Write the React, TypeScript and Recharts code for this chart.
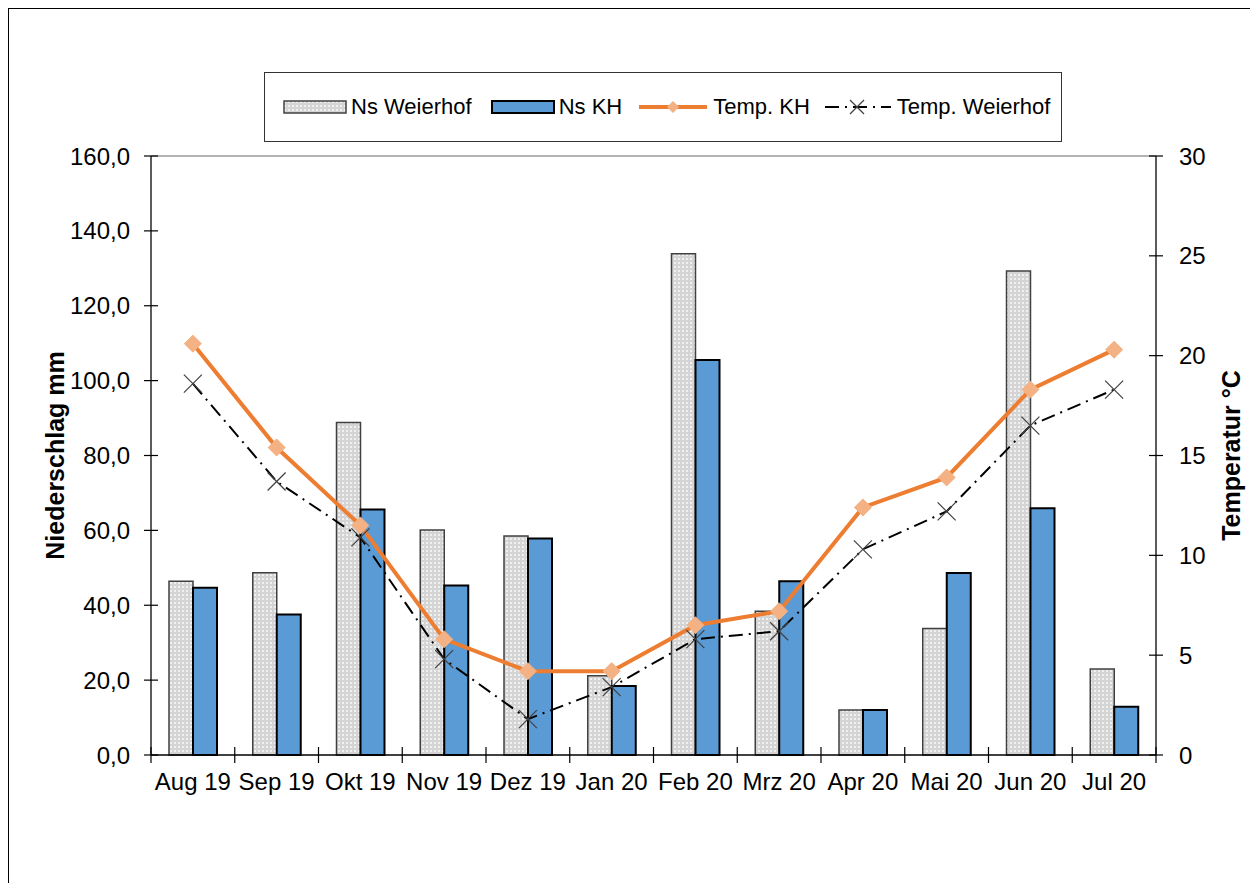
import { Bar, ComposedChart, Label, Legend, Line, ReferenceLine, XAxis, YAxis } from "recharts";

const months = [
  "Aug 19", "Sep 19", "Okt 19", "Nov 19", "Dez 19", "Jan 20",
  "Feb 20", "Mrz 20", "Apr 20", "Mai 20", "Jun 20", "Jul 20",
];
const nsWeierhof = [46.4, 48.7, 88.8, 60.1, 58.5, 21.2, 133.9, 38.4, 12.0, 33.8, 129.3, 23.0];
const nsKH = [44.7, 37.5, 65.6, 45.3, 57.8, 18.4, 105.5, 46.4, 12.0, 48.6, 65.9, 12.9];
const tempKH = [20.6, 15.4, 11.5, 5.8, 4.2, 4.2, 6.5, 7.2, 12.4, 13.9, 18.3, 20.3];
const tempWeierhof = [18.6, 13.7, 10.9, 4.8, 1.8, 3.4, 5.8, 6.2, 10.3, 12.2, 16.5, 18.3];
const precipTicks = [0, 20, 40, 60, 80, 100, 120, 140, 160];
const tempTicks = [0, 5, 10, 15, 20, 25, 30];

const chartData = months.map((month, i) => ({
  month,
  nsWeierhof: nsWeierhof[i],
  nsKH: nsKH[i],
  tempKH: tempKH[i],
  tempWeierhof: tempWeierhof[i],
}));

const FONT = "'Liberation Sans', Arial, sans-serif";
const TICK_SIZE = 24;
const ORANGE = "#ED7D31";
const ORANGE_LIGHT = "#F4B183";
const BLUE = "#5B9BD5";

function Diamond({ cx, cy }: any) {
  if (cx == null || cy == null) return null;
  const r = 8.5;
  return (
    <path
      d={`M${cx},${cy - r}L${cx + r},${cy}L${cx},${cy + r}L${cx - r},${cy}Z`}
      fill={ORANGE_LIGHT}
      stroke={ORANGE_LIGHT}
    />
  );
}

function Cross({ cx, cy }: any) {
  if (cx == null || cy == null) return null;
  const r = 9;
  return (
    <g stroke="#404040" strokeWidth={1.2}>
      <line x1={cx - r} y1={cy - r} x2={cx + r} y2={cy + r} />
      <line x1={cx - r} y1={cy + r} x2={cx + r} y2={cy - r} />
    </g>
  );
}

// month labels, with the tick marks drawn on the category boundaries
function MonthTick(props: any) {
  const { x, y, payload, index, visibleTicksCount, width } = props;
  const half = payload.offset || width / months.length / 2;
  const left = payload.coordinate - half;
  const base = y - 18;
  return (
    <g>
      <line x1={left} x2={left} y1={base - 8} y2={base + 8} stroke="#000" strokeWidth={1.2} />
      {index === visibleTicksCount - 1 && (
        <line x1={left + 2 * half} x2={left + 2 * half} y1={base - 8} y2={base + 8} stroke="#000" strokeWidth={1.2} />
      )}
      <text x={x} y={y} dy="0.71em" textAnchor="middle" fontSize={TICK_SIZE} fill="#000" fontFamily={FONT}>
        {payload.value}
      </text>
    </g>
  );
}

function verticalTitle(text: string, fromLeft: number) {
  return (props: any) => {
    const vb = props.viewBox || {};
    const x = vb.x + fromLeft;
    const y = vb.y + vb.height / 2;
    return (
      <text
        x={x}
        y={y}
        transform={`rotate(-90 ${x} ${y})`}
        textAnchor="middle"
        dominantBaseline="central"
        fontSize={25}
        fontWeight="bold"
        fill="#000"
        fontFamily={FONT}
      >
        {text}
      </text>
    );
  };
}

function LegendBox() {
  const text = { fontSize: 22, color: "#000", fontFamily: FONT, whiteSpace: "nowrap" as const };
  return (
    <div
      style={{
        boxSizing: "border-box",
        width: 798,
        height: 70,
        border: "1px solid #333",
        background: "#fff",
        display: "flex",
        alignItems: "center",
        paddingLeft: 18,
      }}
    >
      <svg width={64} height={14} style={{ marginRight: 4 }}>
        <defs>
          <pattern id="dotsLegend" width={4} height={4} patternUnits="userSpaceOnUse">
            <rect width={4} height={4} fill="#d4d4d4" />
            <circle cx={2} cy={2} r={0.9} fill="#fff" />
          </pattern>
        </defs>
        <rect x={1} y={1} width={62} height={12} fill="url(#dotsLegend)" stroke="#404040" strokeWidth={1.5} />
      </svg>
      <span style={{ ...text, marginRight: 19 }}>Ns Weierhof</span>
      <svg width={64} height={14} style={{ marginRight: 4 }}>
        <rect x={1} y={1} width={62} height={12} fill={BLUE} stroke="#000" strokeWidth={2} />
      </svg>
      <span style={{ ...text, marginRight: 17 }}>Ns KH</span>
      <svg width={68} height={20} style={{ marginRight: 6 }}>
        <line x1={0} y1={10} x2={68} y2={10} stroke={ORANGE} strokeWidth={4} />
        <path d="M34,4L40,10L34,16L28,10Z" fill={ORANGE_LIGHT} />
      </svg>
      <span style={{ ...text, marginRight: 15 }}>Temp. KH</span>
      <svg width={66} height={20} style={{ marginRight: 6 }}>
        <line x1={0} y1={10} x2={66} y2={10} stroke="#000" strokeWidth={2} strokeDasharray="14 6 2 6" />
        <line x1={25} y1={3} x2={39} y2={17} stroke="#404040" strokeWidth={1.2} />
        <line x1={25} y1={17} x2={39} y2={3} stroke="#404040" strokeWidth={1.2} />
      </svg>
      <span style={text}>Temp. Weierhof</span>
    </div>
  );
}

const fmtPrecip = (v: number) => v.toFixed(1).replace(".", ",");

export default function App() {
  return (
    <div
      style={{
        position: "relative",
        width: 1243,
        height: 900,
        border: "1px solid #000",
        boxSizing: "border-box",
        background: "#fff",
        fontFamily: FONT,
      }}
    >
      <ComposedChart
        width={1240}
        height={880}
        data={chartData}
        margin={{ top: 147, right: 0, bottom: 94, left: 0 }}
        barGap={0}
        barSize={24}
      >
        <defs>
          <pattern id="dots" width={4} height={4} patternUnits="userSpaceOnUse">
            <rect width={4} height={4} fill="#d4d4d4" />
            <circle cx={2} cy={2} r={0.9} fill="#fff" />
          </pattern>
        </defs>
        <XAxis
          dataKey="month"
          interval={0}
          height={40}
          tickLine={false}
          tickSize={0}
          tickMargin={18}
          tick={<MonthTick />}
          axisLine={{ stroke: "#000", strokeWidth: 1.5 }}
        />
        <YAxis
          yAxisId="left"
          width={142}
          domain={[0, 160]}
          ticks={precipTicks}
          tickFormatter={fmtPrecip}
          tickSize={14}
          tickMargin={7}
          tickLine={{ stroke: "#000", strokeWidth: 1.2, transform: "translate(7,0)" }}
          axisLine={{ stroke: "#262626", strokeWidth: 1.5 }}
          tick={{ fontSize: TICK_SIZE, fill: "#000", fontFamily: FONT }}
          label={<Label content={verticalTitle("Niederschlag mm", 46)} />}
        />
        <YAxis
          yAxisId="right"
          orientation="right"
          width={93}
          domain={[0, 30]}
          ticks={tempTicks}
          tickSize={14}
          tickMargin={9}
          tickLine={{ stroke: "#000", strokeWidth: 1.2, transform: "translate(-7,0)" }}
          axisLine={{ stroke: "#262626", strokeWidth: 1.5 }}
          tick={{ fontSize: TICK_SIZE, fill: "#000", fontFamily: FONT, textAnchor: "start" }}
          label={<Label content={verticalTitle("Temperatur °C", 75)} />}
        />
        <ReferenceLine yAxisId="left" y={160} stroke="#9a9a9a" strokeWidth={1.5} />
        <Legend
          verticalAlign="middle"
          align="center"
          layout="horizontal"
          wrapperStyle={{ top: 63, left: 255, width: 798, height: 70 }}
          content={() => <LegendBox />}
        />
        <Bar
          yAxisId="left"
          dataKey="nsWeierhof"
          name="Ns Weierhof"
          fill="url(#dots)"
          stroke="#404040"
          strokeWidth={1.5}
          isAnimationActive={false}
        />
        <Bar
          yAxisId="left"
          dataKey="nsKH"
          name="Ns KH"
          fill={BLUE}
          stroke="#000"
          strokeWidth={2}
          isAnimationActive={false}
        />
        <Line
          yAxisId="right"
          type="linear"
          dataKey="tempKH"
          name="Temp. KH"
          stroke={ORANGE}
          strokeWidth={4}
          dot={<Diamond />}
          activeDot={false}
          isAnimationActive={false}
        />
        <Line
          yAxisId="right"
          type="linear"
          dataKey="tempWeierhof"
          name="Temp. Weierhof"
          stroke="#000"
          strokeWidth={2}
          strokeDasharray="14 6 2 6"
          dot={<Cross />}
          activeDot={false}
          isAnimationActive={false}
        />
      </ComposedChart>
    </div>
  );
}
